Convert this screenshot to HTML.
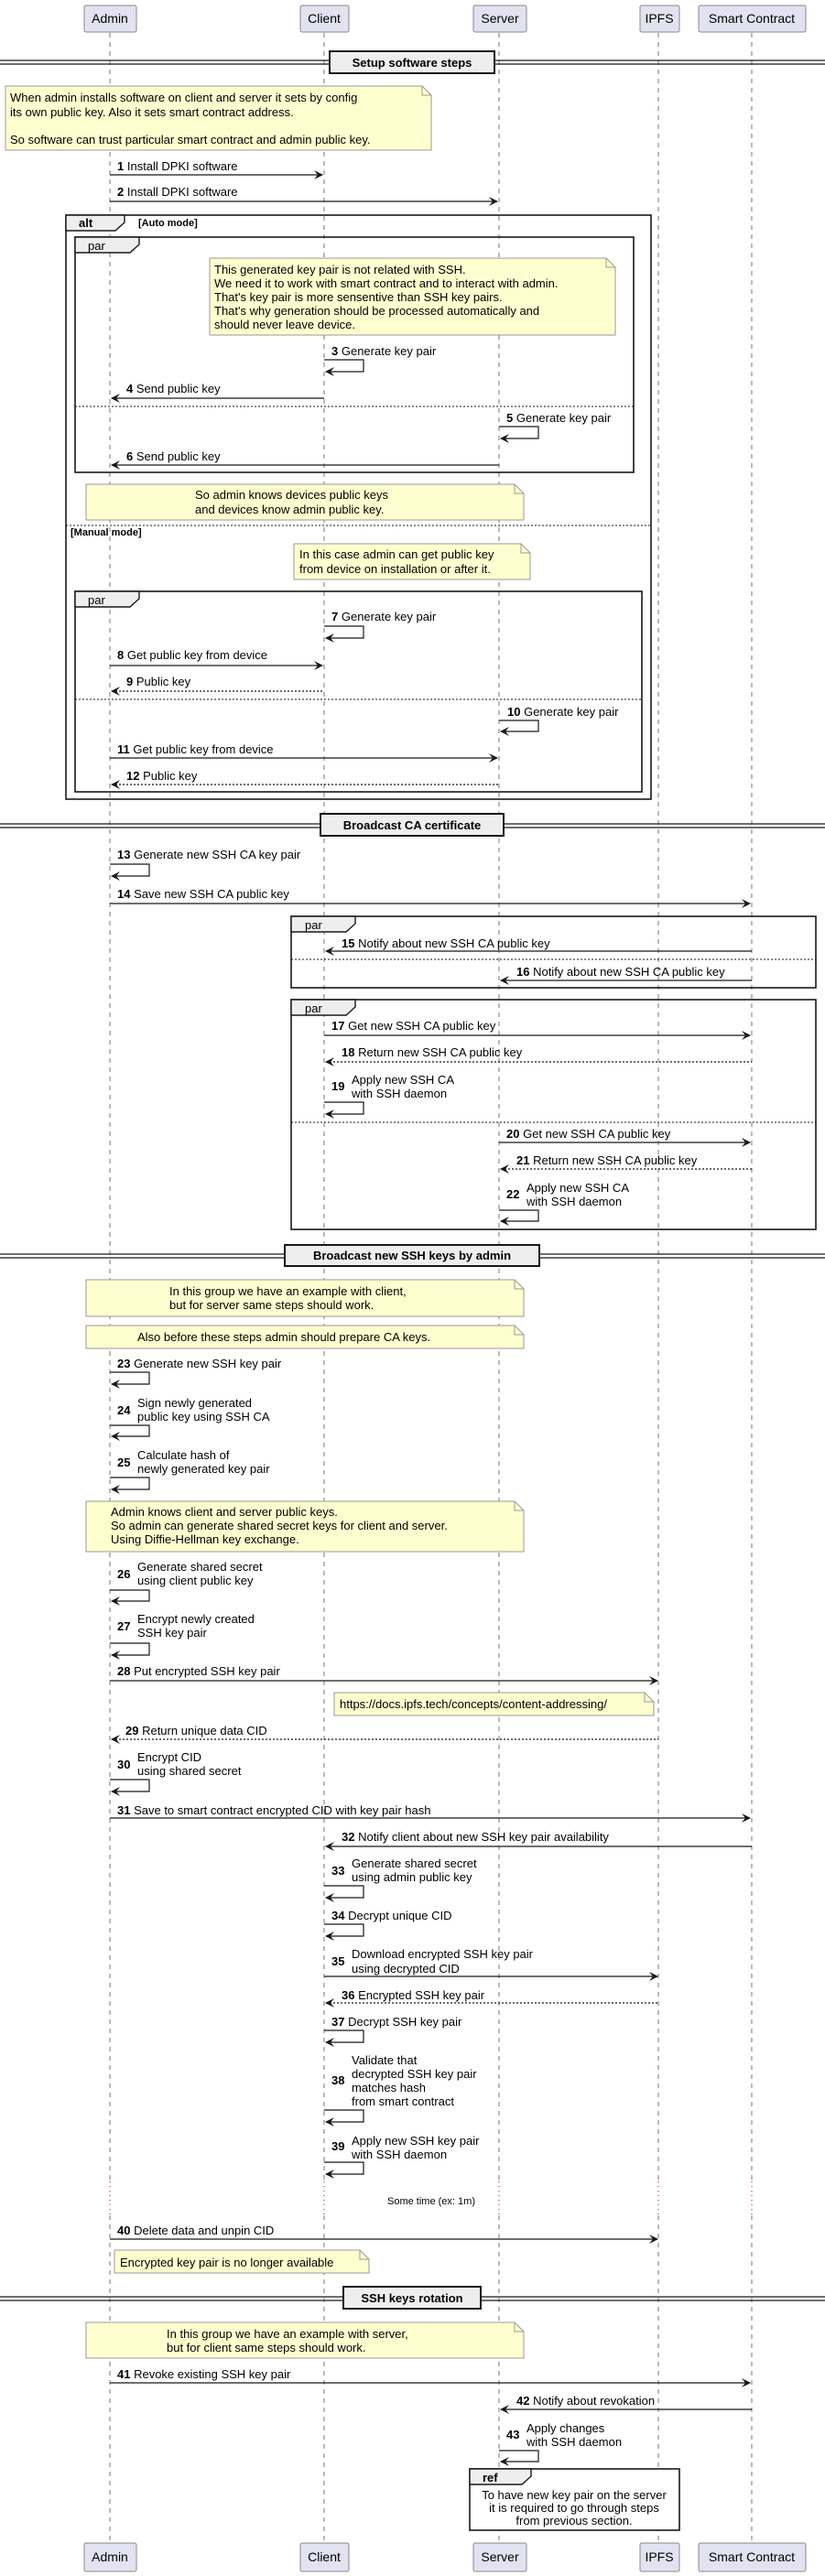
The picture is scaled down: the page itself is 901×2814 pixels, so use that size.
<!DOCTYPE html>
<html><head><meta charset="utf-8"><style>
html,body{margin:0;padding:0;background:#fff}
svg{display:block}
text{font-family:"Liberation Sans",sans-serif;font-size:13px;fill:#000}
.b{font-weight:bold}
.ll{stroke:#555;stroke-width:0.8;stroke-dasharray:5,5}
.m{stroke:#181818;stroke-width:1.2;fill:none}
.d{stroke:#181818;stroke-width:1.2;fill:none;stroke-dasharray:2,2}
.h{fill:#181818}
.fr{fill:none;stroke:#181818;stroke-width:1.6}
.tab{fill:#eeeeee;stroke:#181818;stroke-width:1.4}
.sep{stroke:#181818;stroke-width:1;stroke-dasharray:2,2}
.n{fill:#fefece;stroke:#999;stroke-width:1}
.p{fill:#e2e2f0;stroke:#888;stroke-width:1}
.dv{stroke:#181818;stroke-width:1.2}
.dvb{fill:#eeeeee;stroke:#181818;stroke-width:2}
</style></head><body>
<svg width="901" height="2814" viewBox="0 0 901 2814" xmlns="http://www.w3.org/2000/svg">
<!-- lifelines -->
<g class="ll">
<line x1="120" y1="36" x2="120" y2="2383"/><line x1="120" y1="2420" x2="120" y2="2777"/>
<line x1="354" y1="36" x2="354" y2="2383"/><line x1="354" y1="2420" x2="354" y2="2777"/>
<line x1="545" y1="36" x2="545" y2="2383"/><line x1="545" y1="2420" x2="545" y2="2777"/>
<line x1="719" y1="36" x2="719" y2="2383"/><line x1="719" y1="2420" x2="719" y2="2777"/>
<line x1="821" y1="36" x2="821" y2="2383"/><line x1="821" y1="2420" x2="821" y2="2777"/>
</g>
<g stroke="#a80036" stroke-width="1" stroke-dasharray="1,4">
<line x1="120" y1="2383" x2="120" y2="2420"/><line x1="354" y1="2383" x2="354" y2="2420"/><line x1="545" y1="2383" x2="545" y2="2420"/><line x1="719" y1="2383" x2="719" y2="2420"/><line x1="821" y1="2383" x2="821" y2="2420"/>
</g>
<text x="471" y="2408" text-anchor="middle" style="font-size:11px">Some time (ex: 1m)</text>

<!-- participants -->
<g>
<rect class="p" x="92" y="6" width="57" height="29" rx="2"/><text x="120" y="25" text-anchor="middle" style="font-size:14px">Admin</text>
<rect class="p" x="328" y="6" width="53" height="29" rx="2"/><text x="354" y="25" text-anchor="middle" style="font-size:14px">Client</text>
<rect class="p" x="517" y="6" width="58" height="29" rx="2"/><text x="546" y="25" text-anchor="middle" style="font-size:14px">Server</text>
<rect class="p" x="699" y="6" width="43" height="29" rx="2"/><text x="720" y="25" text-anchor="middle" style="font-size:14px">IPFS</text>
<rect class="p" x="763" y="6" width="117" height="29" rx="2"/><text x="821" y="25" text-anchor="middle" style="font-size:14px">Smart Contract</text>
<rect class="p" x="92" y="2778" width="57" height="31" rx="2"/><text x="120" y="2798" text-anchor="middle" style="font-size:14px">Admin</text>
<rect class="p" x="328" y="2778" width="53" height="31" rx="2"/><text x="354" y="2798" text-anchor="middle" style="font-size:14px">Client</text>
<rect class="p" x="517" y="2778" width="58" height="31" rx="2"/><text x="546" y="2798" text-anchor="middle" style="font-size:14px">Server</text>
<rect class="p" x="699" y="2778" width="43" height="31" rx="2"/><text x="720" y="2798" text-anchor="middle" style="font-size:14px">IPFS</text>
<rect class="p" x="763" y="2778" width="117" height="31" rx="2"/><text x="821" y="2798" text-anchor="middle" style="font-size:14px">Smart Contract</text>
</g>

<!-- dividers -->
<g>
<line class="dv" x1="0" y1="66" x2="901" y2="66"/><line class="dv" x1="0" y1="70" x2="901" y2="70"/>
<rect class="dvb" x="360" y="56" width="180" height="24"/><text class="b" x="450" y="73" text-anchor="middle">Setup software steps</text>
<line class="dv" x1="0" y1="900" x2="901" y2="900"/><line class="dv" x1="0" y1="904" x2="901" y2="904"/>
<rect class="dvb" x="350" y="889" width="200" height="24"/><text class="b" x="450" y="906" text-anchor="middle">Broadcast CA certificate</text>
<line class="dv" x1="0" y1="1370" x2="901" y2="1370"/><line class="dv" x1="0" y1="1374" x2="901" y2="1374"/>
<rect class="dvb" x="311" y="1360" width="278" height="23"/><text class="b" x="450" y="1376" text-anchor="middle">Broadcast new SSH keys by admin</text>
<line class="dv" x1="0" y1="2509" x2="901" y2="2509"/><line class="dv" x1="0" y1="2513" x2="901" y2="2513"/>
<rect class="dvb" x="375" y="2498" width="150" height="24"/><text class="b" x="450" y="2515" text-anchor="middle">SSH keys rotation</text>
</g>

<!-- notes -->
<g>
<path class="n" d="M6,94 H461 L471,104 V164 H6 Z"/><path d="M461,94 V104 H471" fill="none" stroke="#999"/>
<text x="11" y="111">When admin installs software on client and server it sets by config</text>
<text x="11" y="127">its own public key. Also it sets smart contract address.</text>
<text x="11" y="157">So software can trust particular smart contract and admin public key.</text>

<path class="n" d="M229,282 H662 L672,292 V366 H229 Z"/><path d="M662,282 V292 H672" fill="none" stroke="#999"/>
<text x="234" y="299">This generated key pair is not related with SSH.</text>
<text x="234" y="314">We need it to work with smart contract and to interact with admin.</text>
<text x="234" y="329">That's key pair is more sensentive than SSH key pairs.</text>
<text x="234" y="344">That's why generation should be processed automatically and</text>
<text x="234" y="359">should  never leave device.</text>

<path class="n" d="M94,529 H562 L572,539 V568 H94 Z"/><path d="M562,529 V539 H572" fill="none" stroke="#999"/>
<text x="213" y="545">So admin knows devices public keys</text>
<text x="213" y="561">and devices know admin public key.</text>

<path class="n" d="M321,594 H569 L579,604 V633 H321 Z"/><path d="M569,594 V604 H579" fill="none" stroke="#999"/>
<text x="327" y="610">In this case admin can get public key</text>
<text x="327" y="626">from device on installation or after it.</text>

<path class="n" d="M94,1398 H562 L572,1408 V1438 H94 Z"/><path d="M562,1398 V1408 H572" fill="none" stroke="#999"/>
<text x="185" y="1415">In this group we have an example with client,</text>
<text x="185" y="1430">but for server same steps should work.</text>

<path class="n" d="M94,1448 H562 L572,1458 V1473 H94 Z"/><path d="M562,1448 V1458 H572" fill="none" stroke="#999"/>
<text x="150" y="1465">Also before these steps admin should prepare CA keys.</text>

<path class="n" d="M94,1640 H562 L572,1650 V1695 H94 Z"/><path d="M562,1640 V1650 H572" fill="none" stroke="#999"/>
<text x="121" y="1656">Admin knows client and server public keys.</text>
<text x="121" y="1671">So admin can generate shared secret keys for client and server.</text>
<text x="121" y="1686">Using Diffie-Hellman key exchange.</text>

<path class="n" d="M365,1849 H704 L714,1859 V1874 H365 Z"/><path d="M704,1849 V1859 H714" fill="none" stroke="#999"/>
<text x="371" y="1866">https://docs.ipfs.tech/concepts/content-addressing/</text>

<path class="n" d="M125,2458 H393 L403,2468 V2483 H125 Z"/><path d="M393,2458 V2468 H403" fill="none" stroke="#999"/>
<text x="131" y="2476">Encrypted key pair is no longer available</text>

<path class="n" d="M94,2537 H562 L572,2547 V2576 H94 Z"/><path d="M562,2537 V2547 H572" fill="none" stroke="#999"/>
<text x="182" y="2554">In this group we have an example with server,</text>
<text x="182" y="2569">but for client same steps should work.</text>
</g>

<!-- frames -->
<g>
<rect class="fr" x="72" y="235" width="639" height="638"/>
<path class="tab" d="M72,235 H136 V243 L126,252 H72 Z"/>
<text class="b" x="86" y="248">alt</text><text class="b" x="151" y="247" style="font-size:11px">[Auto mode]</text>
<rect class="fr" x="82" y="259" width="610" height="257"/>
<path class="tab" d="M82,259 H152 V267 L142,276 H82 Z"/><text x="96" y="273">par</text>
<line class="sep" x1="82" y1="444" x2="692" y2="444"/>
<line class="sep" x1="72" y1="574" x2="711" y2="574"/>
<text class="b" x="77" y="585" style="font-size:11px">[Manual mode]</text>
<rect class="fr" x="82" y="646" width="619" height="219"/>
<path class="tab" d="M82,646 H152 V654 L142,663 H82 Z"/><text x="96" y="660">par</text>
<line class="sep" x1="82" y1="764" x2="701" y2="764"/>

<rect class="fr" x="318" y="1001" width="573" height="78"/>
<path class="tab" d="M318,1001 H388 V1009 L378,1018 H318 Z"/><text x="333" y="1015">par</text>
<line class="sep" x1="318" y1="1048" x2="891" y2="1048"/>
<rect class="fr" x="318" y="1092" width="573" height="251"/>
<path class="tab" d="M318,1092 H388 V1100 L378,1109 H318 Z"/><text x="333" y="1106">par</text>
<line class="sep" x1="318" y1="1226" x2="891" y2="1226"/>

<rect class="fr" x="513" y="2697" width="229" height="67" style="fill:#fff"/>
<path class="tab" d="M513,2697 H580 V2705 L570,2714 H513 Z"/><text class="b" x="527" y="2711">ref</text>
<text x="627" y="2730" text-anchor="middle">To have new key pair on the server</text>
<text x="627" y="2744" text-anchor="middle">it is required to go through steps</text>
<text x="627" y="2758" text-anchor="middle">from previous section.</text>
</g>

<!-- messages -->
<g>
<!-- 1 -->
<text x="128" y="186"><tspan class="b">1</tspan> Install DPKI software</text>
<line class="m" x1="120" y1="191" x2="352" y2="191"/><polygon class="h" points="353,191 343,186 347,191 343,196"/>
<!-- 2 -->
<text x="128" y="214"><tspan class="b">2</tspan> Install DPKI software</text>
<line class="m" x1="120" y1="220" x2="543" y2="220"/><polygon class="h" points="544,220 534,215 538,220 534,225"/>
<!-- 3 -->
<text x="362" y="388"><tspan class="b">3</tspan> Generate key pair</text>
<path class="m" d="M354,393 H397 V406 H356"/><polygon class="h" points="355,406 365,401 361,406 365,411"/>
<!-- 4 -->
<text x="138" y="429"><tspan class="b">4</tspan> Send public key</text>
<line class="m" x1="122" y1="435" x2="354" y2="435"/><polygon class="h" points="121,435 131,430 127,435 131,440"/>
<!-- 5 -->
<text x="553" y="461"><tspan class="b">5</tspan> Generate key pair</text>
<path class="m" d="M545,466 H588 V479 H547"/><polygon class="h" points="546,479 556,474 552,479 556,484"/>
<!-- 6 -->
<text x="138" y="503"><tspan class="b">6</tspan> Send public key</text>
<line class="m" x1="122" y1="508" x2="545" y2="508"/><polygon class="h" points="121,508 131,503 127,508 131,513"/>
<!-- 7 -->
<text x="362" y="678"><tspan class="b">7</tspan> Generate key pair</text>
<path class="m" d="M354,684 H397 V697 H356"/><polygon class="h" points="355,697 365,692 361,697 365,702"/>
<!-- 8 -->
<text x="128" y="720"><tspan class="b">8</tspan> Get public key from device</text>
<line class="m" x1="120" y1="727" x2="352" y2="727"/><polygon class="h" points="353,727 343,722 347,727 343,732"/>
<!-- 9 -->
<text x="138" y="749"><tspan class="b">9</tspan> Public key</text>
<line class="d" x1="122" y1="755" x2="354" y2="755"/><polygon class="h" points="121,755 131,750 127,755 131,760"/>
<!-- 10 -->
<text x="554" y="782"><tspan class="b">10</tspan> Generate key pair</text>
<path class="m" d="M545,787 H588 V799 H547"/><polygon class="h" points="546,799 556,794 552,799 556,804"/>
<!-- 11 -->
<text x="128" y="823"><tspan class="b">11</tspan> Get public key from device</text>
<line class="m" x1="120" y1="828" x2="543" y2="828"/><polygon class="h" points="544,828 534,823 538,828 534,833"/>
<!-- 12 -->
<text x="138" y="852"><tspan class="b">12</tspan> Public key</text>
<line class="d" x1="122" y1="857" x2="545" y2="857"/><polygon class="h" points="121,857 131,852 127,857 131,862"/>
<!-- 13 -->
<text x="128" y="938"><tspan class="b">13</tspan> Generate new SSH CA key pair</text>
<path class="m" d="M120,944 H163 V957 H122"/><polygon class="h" points="121,957 131,952 127,957 131,962"/>
<!-- 14 -->
<text x="128" y="981"><tspan class="b">14</tspan> Save new SSH CA public key</text>
<line class="m" x1="120" y1="987" x2="819" y2="987"/><polygon class="h" points="820,987 810,982 814,987 810,992"/>
<!-- 15 -->
<text x="373" y="1035"><tspan class="b">15</tspan> Notify about new SSH CA public key</text>
<line class="m" x1="356" y1="1039" x2="821" y2="1039"/><polygon class="h" points="355,1039 365,1034 361,1039 365,1044"/>
<!-- 16 -->
<text x="564" y="1066"><tspan class="b">16</tspan> Notify about new SSH CA public key</text>
<line class="m" x1="547" y1="1071" x2="821" y2="1071"/><polygon class="h" points="546,1071 556,1066 552,1071 556,1076"/>
<!-- 17 -->
<text x="362" y="1125"><tspan class="b">17</tspan> Get new SSH CA public key</text>
<line class="m" x1="354" y1="1131" x2="819" y2="1131"/><polygon class="h" points="820,1131 810,1126 814,1131 810,1136"/>
<!-- 18 -->
<text x="373" y="1154"><tspan class="b">18</tspan> Return new SSH CA public key</text>
<line class="d" x1="356" y1="1160" x2="821" y2="1160"/><polygon class="h" points="355,1160 365,1155 361,1160 365,1165"/>
<!-- 19 -->
<text class="b" x="362" y="1191">19</text><text x="384" y="1184">Apply new SSH CA</text><text x="384" y="1199"> with SSH daemon</text>
<path class="m" d="M354,1204 H397 V1217 H356"/><polygon class="h" points="355,1217 365,1212 361,1217 365,1222"/>
<!-- 20 -->
<text x="553" y="1243"><tspan class="b">20</tspan> Get new SSH CA public key</text>
<line class="m" x1="545" y1="1248" x2="819" y2="1248"/><polygon class="h" points="820,1248 810,1243 814,1248 810,1253"/>
<!-- 21 -->
<text x="564" y="1272"><tspan class="b">21</tspan> Return new SSH CA public key</text>
<line class="d" x1="547" y1="1277" x2="821" y2="1277"/><polygon class="h" points="546,1277 556,1272 552,1277 556,1282"/>
<!-- 22 -->
<text class="b" x="553" y="1309">22</text><text x="575" y="1302">Apply new SSH CA</text><text x="575" y="1317"> with SSH daemon</text>
<path class="m" d="M545,1322 H588 V1334 H547"/><polygon class="h" points="546,1334 556,1329 552,1334 556,1339"/>
<!-- 23 -->
<text x="128" y="1494"><tspan class="b">23</tspan> Generate new SSH key pair</text>
<path class="m" d="M120,1499 H163 V1512 H122"/><polygon class="h" points="121,1512 131,1507 127,1512 131,1517"/>
<!-- 24 -->
<text class="b" x="128" y="1545">24</text><text x="150" y="1537">Sign newly generated</text><text x="150" y="1552"> public key using SSH CA</text>
<path class="m" d="M120,1557 H163 V1569 H122"/><polygon class="h" points="121,1569 131,1564 127,1569 131,1574"/>
<!-- 25 -->
<text class="b" x="128" y="1602">25</text><text x="150" y="1594">Calculate hash of</text><text x="150" y="1609"> newly generated key pair</text>
<path class="m" d="M120,1614 H163 V1627 H122"/><polygon class="h" points="121,1627 131,1622 127,1627 131,1632"/>
<!-- 26 -->
<text class="b" x="128" y="1724">26</text><text x="150" y="1716">Generate shared secret</text><text x="150" y="1731"> using client public key</text>
<path class="m" d="M120,1737 H163 V1749 H122"/><polygon class="h" points="121,1749 131,1744 127,1749 131,1754"/>
<!-- 27 -->
<text class="b" x="128" y="1781">27</text><text x="150" y="1773">Encrypt newly created</text><text x="150" y="1788"> SSH key pair</text>
<path class="m" d="M120,1795 H163 V1808 H122"/><polygon class="h" points="121,1808 131,1803 127,1808 131,1813"/>
<!-- 28 -->
<text x="128" y="1830"><tspan class="b">28</tspan> Put encrypted SSH key pair</text>
<line class="m" x1="120" y1="1836" x2="718" y2="1836"/><polygon class="h" points="719,1836 709,1831 713,1836 709,1841"/>
<!-- 29 -->
<text x="137" y="1895"><tspan class="b">29</tspan> Return unique data CID</text>
<line class="d" x1="122" y1="1900" x2="719" y2="1900"/><polygon class="h" points="121,1900 131,1895 127,1900 131,1905"/>
<!-- 30 -->
<text class="b" x="128" y="1932">30</text><text x="150" y="1924">Encrypt CID</text><text x="150" y="1939"> using shared secret</text>
<path class="m" d="M120,1944 H163 V1957 H122"/><polygon class="h" points="121,1957 131,1952 127,1957 131,1962"/>
<!-- 31 -->
<text x="128" y="1982"><tspan class="b">31</tspan> Save to smart contract encrypted CID with key pair hash</text>
<line class="m" x1="120" y1="1986" x2="819" y2="1986"/><polygon class="h" points="820,1986 810,1981 814,1986 810,1991"/>
<!-- 32 -->
<text x="373" y="2011"><tspan class="b">32</tspan> Notify client about new SSH key pair availability</text>
<line class="m" x1="356" y1="2017" x2="821" y2="2017"/><polygon class="h" points="355,2017 365,2012 361,2017 365,2022"/>
<!-- 33 -->
<text class="b" x="362" y="2048">33</text><text x="384" y="2040">Generate shared secret</text><text x="384" y="2055"> using admin public key</text>
<path class="m" d="M354,2060 H397 V2073 H356"/><polygon class="h" points="355,2073 365,2068 361,2073 365,2078"/>
<!-- 34 -->
<text x="362" y="2097"><tspan class="b">34</tspan> Decrypt unique CID</text>
<path class="m" d="M354,2102 H397 V2115 H356"/><polygon class="h" points="355,2115 365,2110 361,2115 365,2120"/>
<!-- 35 -->
<text class="b" x="362" y="2147">35</text><text x="384" y="2139">Download encrypted SSH key pair</text><text x="384" y="2155"> using decrypted CID</text>
<line class="m" x1="354" y1="2159" x2="718" y2="2159"/><polygon class="h" points="719,2159 709,2154 713,2159 709,2164"/>
<!-- 36 -->
<text x="373" y="2184"><tspan class="b">36</tspan> Encrypted SSH key pair</text>
<line class="d" x1="356" y1="2188" x2="719" y2="2188"/><polygon class="h" points="355,2188 365,2183 361,2188 365,2193"/>
<!-- 37 -->
<text x="362" y="2213"><tspan class="b">37</tspan> Decrypt SSH key pair</text>
<path class="m" d="M354,2218 H397 V2231 H356"/><polygon class="h" points="355,2231 365,2226 361,2231 365,2236"/>
<!-- 38 -->
<text class="b" x="362" y="2277">38</text>
<text x="384" y="2255">Validate that</text><text x="384" y="2270"> decrypted SSH key pair</text><text x="384" y="2285"> matches hash</text><text x="384" y="2300"> from smart contract</text>
<path class="m" d="M354,2305 H397 V2318 H356"/><polygon class="h" points="355,2318 365,2313 361,2318 365,2323"/>
<!-- 39 -->
<text class="b" x="362" y="2349">39</text><text x="384" y="2343">Apply new SSH key pair</text><text x="384" y="2358"> with SSH daemon</text>
<path class="m" d="M354,2362 H397 V2375 H356"/><polygon class="h" points="355,2375 365,2370 361,2375 365,2380"/>
<!-- 40 -->
<text x="128" y="2441"><tspan class="b">40</tspan> Delete data and unpin CID</text>
<line class="m" x1="120" y1="2446" x2="718" y2="2446"/><polygon class="h" points="719,2446 709,2441 713,2446 709,2451"/>
<!-- 41 -->
<text x="128" y="2598"><tspan class="b">41</tspan> Revoke existing SSH key pair</text>
<line class="m" x1="120" y1="2603" x2="819" y2="2603"/><polygon class="h" points="820,2603 810,2598 814,2603 810,2608"/>
<!-- 42 -->
<text x="564" y="2627"><tspan class="b">42</tspan> Notify about revokation</text>
<line class="m" x1="547" y1="2632" x2="821" y2="2632"/><polygon class="h" points="546,2632 556,2627 552,2632 556,2637"/>
<!-- 43 -->
<text class="b" x="553" y="2664">43</text><text x="575" y="2657">Apply changes</text><text x="575" y="2672"> with SSH daemon</text>
<path class="m" d="M545,2677 H588 V2689 H547"/><polygon class="h" points="546,2689 556,2684 552,2689 556,2694"/>
</g>
</svg>
</body></html>
